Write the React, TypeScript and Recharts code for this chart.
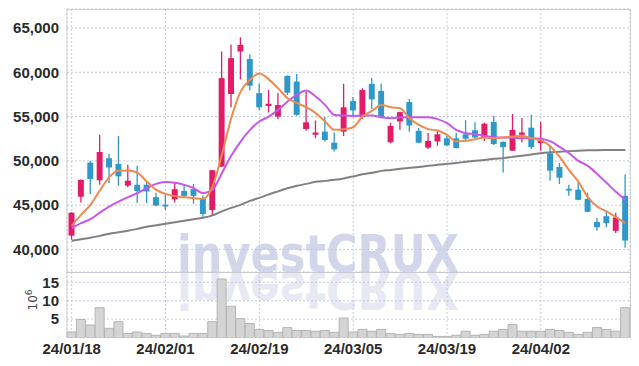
import React from 'react';
import { ComposedChart, BarChart, Bar, Line, XAxis, YAxis, CartesianGrid } from 'recharts';

const dates = [
  '24/01/18', '24/01/19', '24/01/22', '24/01/23', '24/01/24', '24/01/25', '24/01/26', '24/01/29', '24/01/30', '24/01/31',
  '24/02/01', '24/02/02', '24/02/05', '24/02/06', '24/02/07', '24/02/08', '24/02/13', '24/02/14', '24/02/15', '24/02/16',
  '24/02/19', '24/02/20', '24/02/21', '24/02/22', '24/02/23', '24/02/26', '24/02/27', '24/02/28', '24/02/29', '24/03/04',
  '24/03/05', '24/03/06', '24/03/07', '24/03/08', '24/03/11', '24/03/12', '24/03/13', '24/03/14', '24/03/15', '24/03/18',
  '24/03/19', '24/03/20', '24/03/21', '24/03/22', '24/03/25', '24/03/26', '24/03/27', '24/03/28', '24/03/29', '24/04/01',
  '24/04/02', '24/04/03', '24/04/04', '24/04/05', '24/04/08', '24/04/09', '24/04/11', '24/04/12', '24/04/15', '24/04/16',
];

const opens = [
  41550, 45950, 49800, 47800, 50300, 49650, 47200, 47300, 47300, 45900,
  45050, 45650, 46600, 46800, 45700, 44450, 49350, 57550, 62350, 61500,
  57650, 56200, 55000, 59600, 58950, 53600, 52950, 53300, 52050, 53300,
  56750, 54950, 58700, 57900, 52100, 54450, 56650, 53400, 51500, 52200,
  52550, 52550, 53000, 53450, 52650, 54400, 52150, 51150, 52950, 53750,
  52000, 50850, 49300, 46850, 46750, 45700, 43100, 43750, 42100, 46050,
];
const highs = [
  44200, 47900, 50000, 52950, 50800, 52800, 49550, 49450, 47650, 46400,
  46150, 47550, 47300, 47400, 46100, 48950, 62350, 63150, 63950, 62050,
  58750, 58000, 57650, 59650, 59800, 57800, 54550, 54950, 53200, 58700,
  57200, 58200, 59350, 58700, 54300, 55550, 57000, 53700, 53150, 53400,
  52850, 53150, 54600, 54350, 54300, 55100, 52200, 55300, 54850, 55200,
  54400, 51800, 49750, 47300, 47600, 46400, 43550, 44300, 44150, 48500,
];
const lows = [
  41100, 45300, 46250, 47300, 47500, 47200, 47050, 45250, 45250, 44900,
  44450, 45300, 45800, 45150, 43700, 43900, 49300, 56050, 59200, 57950,
  55750, 55450, 54700, 57450, 55100, 53400, 52550, 52200, 51050, 52800,
  54950, 54750, 55850, 54800, 52000, 53500, 53300, 52000, 51350, 51700,
  51700, 51400, 52150, 52500, 52250, 51800, 48700, 51150, 52100, 51350,
  51150, 47750, 47400, 46050, 45550, 44200, 42100, 42500, 41850, 40200,
];
const closes = [
  44150, 47850, 47950, 51000, 49250, 48250, 47750, 46600, 46550, 44950,
  44850, 46800, 46050, 46050, 44000, 48950, 59350, 61600, 63100, 58500,
  56050, 56450, 56300, 57700, 55200, 54350, 53200, 52350, 51300, 56050,
  55700, 58000, 56950, 54950, 53950, 55500, 54000, 52050, 52250, 53000,
  51750, 51450, 52500, 52650, 54200, 51900, 51550, 53500, 53200, 51550,
  52300, 48900, 48100, 46650, 45600, 44250, 42500, 42950, 43600, 41000,
];

const ma5 = [
  42660, 43900, 45030, 46650, 48160, 48870, 48900, 48680, 47660, 46730,
  46270, 46020, 45900, 45790, 45710, 47100, 50680, 54820, 57820, 59150,
  59880, 59200, 58190, 57080, 56510, 56060, 55390, 54440, 53500, 53580,
  53800, 55000, 55650, 56320, 56060, 55950, 54820, 54060, 53580, 53420,
  52940, 52180, 52260, 52450, 52630, 52560, 52630, 52740, 52820, 52540,
  52310, 51660, 50450, 48950, 47660, 45900, 44840, 44300, 43640, 42970,
];
const ma20 = [
  42400, 42970, 43420, 44160, 44840, 45400, 45900, 46350, 46920, 47400,
  47600, 47520, 47290, 46920, 46350, 46730, 48610, 50570, 52180, 53500,
  54440, 55000, 55760, 56700, 57450, 57940, 57260, 56320, 55190, 55110,
  55080, 55110, 55110, 54930, 54820, 54890, 54930, 54930, 54930, 54710,
  54260, 53500, 53130, 53010, 52820, 52680, 52630, 52630, 52560, 52560,
  52510, 52220, 51580, 50870, 50000, 49440, 48530, 47520, 46500, 45600,
];
const ma60 = [
  40970, 41140, 41310, 41530, 41760, 41930, 42100, 42320, 42550, 42720,
  42890, 43060, 43230, 43400, 43570, 43850, 44300, 44690, 45030, 45480,
  45820, 46220, 46560, 46900, 47180, 47400, 47630, 47740, 47860, 48020,
  48250, 48480, 48650, 48870, 48980, 49100, 49210, 49320, 49440, 49550,
  49660, 49770, 49890, 50000, 50110, 50230, 50310, 50450, 50590, 50730,
  50870, 50960, 51040, 51100, 51150, 51190, 51210, 51220, 51230, 51240,
];

const volumes = [
  1.5, 4.9, 3.4, 8.1, 2.5, 4.3, 1.1, 1.5, 1.1, 0.6,
  1.1, 1.1, 0.4, 1.1, 1.1, 4.3, 15.9, 8.5, 5.1, 3.8,
  2.2, 1.9, 1.4, 2.7, 1.9, 1.9, 1.7, 1.9, 1.4, 5.3,
  1.5, 2.2, 1.7, 2.2, 1.1, 0.85, 1.1, 0.85, 0.85, 0.3,
  0.3, 0.6, 1.7, 0.6, 0.85, 1.7, 2.2, 3.5, 1.7, 1.7,
  1.7, 2.2, 1.9, 1.4, 0.85, 1.4, 2.7, 2.2, 1.7, 8.1,
];

const priceTicks = [40000, 45000, 50000, 55000, 60000, 65000];
const volumeTicks = [5, 10, 15];

const data = dates.map((date, i) => ({
  date,
  open: opens[i],
  high: highs[i],
  low: lows[i],
  close: closes[i],
  ma5: ma5[i],
  ma20: ma20[i],
  ma60: ma60[i],
  volume: volumes[i],
}));

const UP = '#e21c66';
const DOWN = '#2e98ca';
const FONT = '"Liberation Sans Narrow", "Liberation Sans", sans-serif';
const GRID = '#c6c9de';
const TICK = { fontFamily: FONT, fontSize: 15, fill: '#2a2a2a', fontWeight: 'bold' as const };

const Candle = (props: any) => {
  const { x, width, payload } = props;
  let { y, height } = props;
  if (height < 0) {
    y = y + height;
    height = -height;
  }
  const { open, close, high, low } = payload;
  const up = close >= open;
  const color = up ? UP : DOWN;
  const ratio = high === low ? 0 : height / (high - low);
  const yOf = (p: number) => y + (high - p) * ratio;
  const cx = x + width / 2;
  const bw = width * 0.66;
  const top = yOf(Math.max(open, close));
  const bot = yOf(Math.min(open, close));
  return (
    <g>
      <line x1={cx} x2={cx} y1={y} y2={y + height} stroke={color} strokeWidth={1.3} />
      <rect x={cx - bw / 2} y={top} width={bw} height={Math.max(bot - top, 1.8)} fill={color} />
    </g>
  );
};

export default function App() {
  return (
    <div style={{ position: 'absolute', left: 0, top: 0, width: 639, height: 366, background: '#fff' }}>
      <svg width={639} height={366} style={{ position: 'absolute', left: 0, top: 0 }}>
        <text
          x={177}
          y={272}
          fontFamily='"DejaVu Sans Condensed", "DejaVu Sans", sans-serif'
          fontWeight="bold"
          fontSize={52}
          fill="#d1d6ea"
          textLength={282}
          lengthAdjust="spacingAndGlyphs"
        >
          investCRUX
        </text>
        <g transform="translate(0,544) scale(1,-1)">
          <text
            x={177}
            y={272}
            fontFamily='"DejaVu Sans Condensed", "DejaVu Sans", sans-serif'
            fontWeight="bold"
            fontSize={52}
            fill="#e6e8f3"
            textLength={282}
            lengthAdjust="spacingAndGlyphs"
          >
            investCRUX
          </text>
        </g>
        <line x1={67} x2={630} y1={9.5} y2={9.5} stroke="#d2d2d6" />
        <line x1={67} x2={67} y1={9} y2={338} stroke="#d2d2d6" />
        <line x1={630.5} x2={630.5} y1={9} y2={338} stroke="#d2d2d6" />
        <line x1={67} x2={630} y1={272.5} y2={272.5} stroke="#c9c9cf" />
        <text
          transform="translate(37,300) rotate(-90)"
          textAnchor="middle"
          fontFamily='"DejaVu Sans", sans-serif'
          fontSize={12}
          fill="#444"
        >
          10<tspan dy={-5} fontSize={9}>6</tspan>
        </text>
      </svg>
      <div style={{ position: 'absolute', left: 0, top: 0 }}>
        <ComposedChart width={639} height={272} data={data} margin={{ top: 9, right: 9, bottom: 0, left: 0 }} barCategoryGap={0}>
          <CartesianGrid stroke={GRID} strokeDasharray="2 2" />
          <XAxis dataKey="date" hide interval={9} />
          <YAxis
            domain={[37450, 67150]}
            ticks={priceTicks}
            interval={0}
            allowDataOverflow
            width={67}
            axisLine={false}
            tickLine={false}
            tickFormatter={(v: number) => v.toLocaleString('en-US')}
            tick={TICK}
          />
          <Bar dataKey={(d: any) => [d.low, d.high]} shape={Candle} isAnimationActive={false} />
          <Line type="monotone" dataKey="ma60" stroke="#808080" strokeWidth={2} dot={false} isAnimationActive={false} />
          <Line type="monotone" dataKey="ma20" stroke="#c657ea" strokeWidth={2} dot={false} isAnimationActive={false} />
          <Line type="monotone" dataKey="ma5" stroke="#ee8a4e" strokeWidth={2} dot={false} isAnimationActive={false} />
        </ComposedChart>
      </div>
      <div style={{ position: 'absolute', left: 0, top: 272 }}>
        <BarChart width={639} height={94} data={data} margin={{ top: 0, right: 9, bottom: 0, left: 0 }} barCategoryGap={0}>
          <CartesianGrid stroke={GRID} strokeDasharray="2 2" />
          <XAxis
            dataKey="date"
            interval={9}
            height={28.5}
            axisLine={false}
            tickLine={false}
            tickSize={4}
            tick={TICK}
          />
          <YAxis
            domain={[0, 17.8]}
            ticks={volumeTicks}
            interval={0}
            allowDataOverflow
            width={67}
            axisLine={false}
            tickLine={false}
            tick={TICK}
          />
          <Bar dataKey="volume" fill="#d4d4d4" stroke="#b4b4b4" strokeWidth={1} isAnimationActive={false} />
        </BarChart>
      </div>
    </div>
  );
}
